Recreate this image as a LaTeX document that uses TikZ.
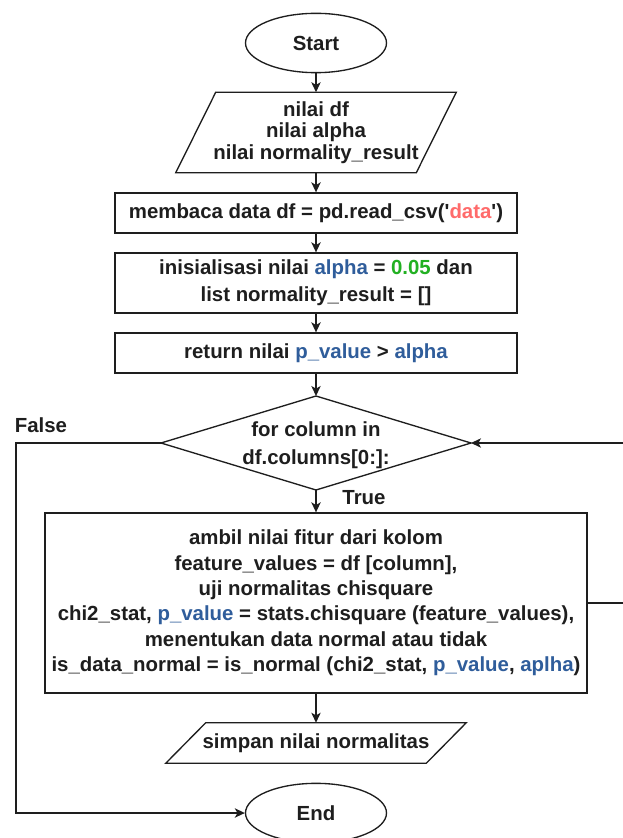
\documentclass[tikz,border=0pt]{standalone}
\usepackage{fontspec}
\setmainfont{Liberation Sans}[Ligatures=TeXOff]
\usetikzlibrary{shapes.geometric,arrows.meta}

\definecolor{ink}{HTML}{1E1E1E}
\definecolor{kwblue}{HTML}{2F5D9B}
\definecolor{numgreen}{HTML}{22B022}
\definecolor{strred}{HTML}{FF6B6B}

\tikzset{
  every node/.style={font=\bfseries\fontsize{15.3pt}{19pt}\selectfont, text=ink},
  shapeline/.style={draw=ink, line width=1pt},
  term/.style={shapeline, ellipse, fill=white, minimum width=105.75pt,
    minimum height=44.5pt, inner sep=0pt},
  procbox/.style={shapeline, rectangle, fill=white, minimum width=301.5pt,
    inner sep=0pt, align=center},
  plainnode/.style={inner sep=0pt, align=center},
  flow/.style={draw=ink, line width=1pt, -{Stealth[length=7.5pt,width=7pt,inset=2pt]}},
}

\begin{document}
\begin{tikzpicture}[x=0.75pt, y=-0.75pt]
  \useasboundingbox[fill=white] (0,0) rectangle (623,838);

  % terminals
  \node[term] (start) at (316,43) {Start};
  \node[term] (end) at (316,813) {End};

  % input data (parallelogram)
  \node[plainnode, minimum width=210pt, minimum height=60pt,
        font=\bfseries\fontsize{15.3pt}{16pt}\selectfont] (inp) at (316,132.5)
        {nilai df\\nilai alpha\\nilai normality\_result};
  \draw[shapeline] ([xshift=30pt]inp.north west) -- (inp.north east)
        -- ([xshift=-30pt]inp.south east) -- (inp.south west) -- cycle;

  % processing steps
  \node[procbox, minimum height=30pt] (read) at (316,213)
        {membaca data df = pd.read\_csv('\textcolor{strred}{data}')};
  \node[procbox, minimum height=45pt,
        font=\bfseries\fontsize{15.3pt}{20pt}\selectfont] (init) at (316,283)
        {inisialisasi nilai \textcolor{kwblue}{alpha} = \textcolor{numgreen}{0.05} dan\\list normality\_result = []};
  \node[procbox, minimum height=30pt] (ret) at (316,353)
        {return nilai \textcolor{kwblue}{p\_value} > \textcolor{kwblue}{alpha}};

  % loop decision (diamond)
  \node[plainnode, font=\bfseries\fontsize{15.3pt}{21pt}\selectfont] (loop) at (316,445)
        {for column in\\df.columns[0:]:};
  \coordinate (dN) at (316,396);
  \coordinate (dS) at (316,490);
  \coordinate (dW) at (161,443);
  \coordinate (dE) at (471,443);
  \draw[shapeline] (dN) -- (dE) -- (dS) -- (dW) -- cycle;

  % loop body
  \node[procbox, minimum width=406.5pt, minimum height=135pt] (body) at (316,603)
        {ambil nilai fitur dari kolom\\
         feature\_values = df [column],\\
         uji normalitas chisquare\\
         chi2\_stat, \textcolor{kwblue}{p\_value} = stats.chisquare (feature\_values),\\
         menentukan data normal atau tidak\\
         is\_data\_normal = is\_normal (chi2\_stat, \textcolor{kwblue}{p\_value}, \textcolor{kwblue}{aplha})};

  % output (parallelogram)
  \node[plainnode, minimum width=225pt, minimum height=30pt] (save) at (316,743)
        {simpan nilai normalitas};
  \draw[shapeline] ([xshift=30pt]save.north west) -- (save.north east)
        -- ([xshift=-30pt]save.south east) -- (save.south west) -- cycle;

  % branch labels
  \node[plainnode] (lblfalse) at (41,425) {False};
  \node[plainnode] (lbltrue) at (364,498) {True};

  % main flow
  \draw[flow] (start) -- (inp.north);
  \draw[flow] (inp.south) -- (read.north);
  \draw[flow] (read) -- (init);
  \draw[flow] (init) -- (ret);
  \draw[flow] (ret.south) -- (dN);
  \draw[flow] (dS) -- (body.north);
  \draw[flow] (body.south) -- (save.north);

  % false exit and loop-back (return path runs along the right margin)
  \coordinate (fx) at (16,443);
  \draw[flow] (dW) -- (fx) |- (end.west);
  \coordinate (rx) at (625,603);
  \draw[flow] (body.east) -- (rx) |- (dE);
\end{tikzpicture}
\end{document}
